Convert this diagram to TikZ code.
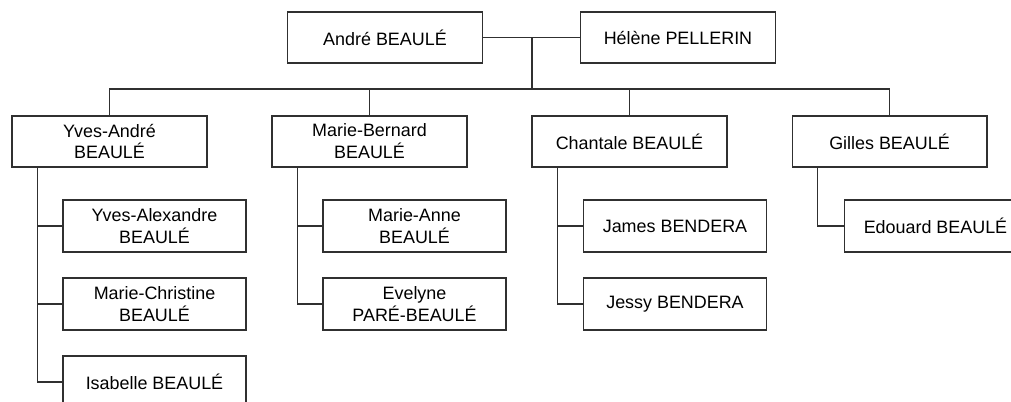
\documentclass[tikz,border=0pt]{standalone}
\usepackage{fontspec}
\setmainfont{Liberation Sans}
\usepackage{xcolor}
\definecolor{tree-line}{HTML}{303030}
\usepackage{tikz}

\tikzset{
    personbox/.style={draw=tree-line, line width=0.6pt, fill=white, align=center,
        minimum width=3.9cm, minimum height=1.02cm, inner sep=0pt,
        font=\fontsize{10.2}{12.5}\selectfont},
    childbox/.style={personbox, minimum width=3.66cm, minimum height=1.04cm},
    link/.style={draw=tree-line, line width=0.6pt}
}

\begin{document}
\begin{tikzpicture}[x=0.02cm, y=-0.02cm]

    % Frame
    \useasboundingbox (0, 0) rectangle (1011, 402);
    \clip (0, 0) rectangle (1011, 402);

    % Parents
    \node[personbox] (andre) at (385, 37.5) {André BEAULÉ};
    \node[personbox] (helene) at (678, 37.5) {Hélène PELLERIN};
    \coordinate (couple) at (532, 37.5);
    \coordinate (bus) at (532, 89);

    % Children
    \node[personbox] (yvesandre) at (109.5, 141.5) {Yves-André\\BEAULÉ};
    \node[personbox] (mariebernard) at (369.5, 141.5) {Marie-Bernard\\BEAULÉ};
    \node[personbox] (chantale) at (629.5, 141.5) {Chantale BEAULÉ};
    \node[personbox] (gilles) at (889.5, 141.5) {Gilles BEAULÉ};

    % Grandchildren
    \node[childbox] (yvesalex) at (154.5, 226) {Yves-Alexandre\\BEAULÉ};
    \node[childbox] (mariechristine) at (154.5, 304) {Marie-Christine\\BEAULÉ};
    \node[childbox] (isabelle) at (154.5, 382) {Isabelle BEAULÉ};
    \node[childbox] (marieanne) at (414.5, 226) {Marie-Anne\\BEAULÉ};
    \node[childbox] (evelyne) at (414.5, 304) {Evelyne\\PARÉ-BEAULÉ};
    \node[childbox] (james) at (675, 226) {James BENDERA};
    \node[childbox] (jessy) at (675, 304) {Jessy BENDERA};
    \node[childbox] (edouard) at (935.5, 226) {Edouard BEAULÉ};

    % Couple and bus
    \draw[link] (andre.east) -- (helene.west);
    \draw[link] (couple) -- (bus);
    \draw[link] (bus) -| (yvesandre.north);
    \draw[link] (bus) -| (mariebernard.north);
    \draw[link] (bus) -| (chantale.north);
    \draw[link] (bus) -| (gilles.north);

    % Branches
    \draw[link] ([xshift=0.52cm]yvesandre.south west) |- (yvesalex.west);
    \draw[link] ([xshift=0.52cm]yvesandre.south west) |- (mariechristine.west);
    \draw[link] ([xshift=0.52cm]yvesandre.south west) |- (isabelle.west);
    \draw[link] ([xshift=0.52cm]mariebernard.south west) |- (marieanne.west);
    \draw[link] ([xshift=0.52cm]mariebernard.south west) |- (evelyne.west);
    \draw[link] ([xshift=0.52cm]chantale.south west) |- (james.west);
    \draw[link] ([xshift=0.52cm]chantale.south west) |- (jessy.west);
    \draw[link] ([xshift=0.52cm]gilles.south west) |- (edouard.west);

\end{tikzpicture}
\end{document}
